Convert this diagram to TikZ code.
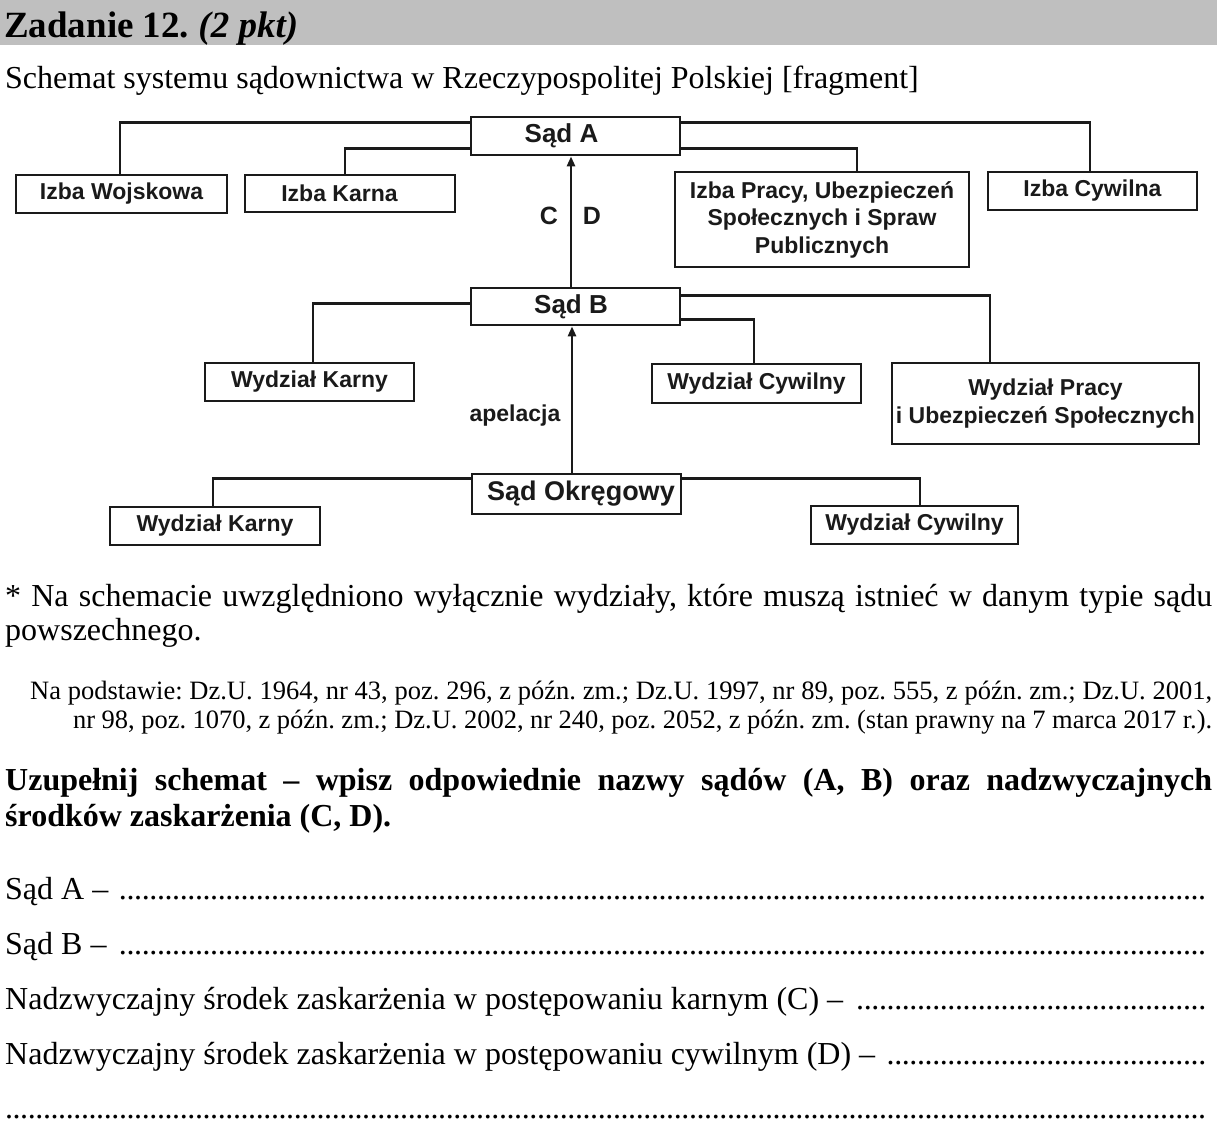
\documentclass[tikz,border=0pt]{standalone}
\usepackage{fontspec}
\setmainfont{Liberation Serif}
\newfontfamily\diagfont{Liberation Sans}
\usetikzlibrary{arrows.meta}
\definecolor{bargray}{HTML}{BFBFBF}
\definecolor{ink}{HTML}{1A1A1A}
\newcommand\dotsfill{\leaders\hbox to 7.6pt{\hss.\hss}\hfill}
\begin{document}
\frenchspacing
\begin{tikzpicture}[x=1pt,y=-1pt,
 box/.style={draw=ink, line width=2.7pt, rectangle, inner sep=0pt, align=center,
   font=\diagfont\bfseries\fontsize{23pt}{27.5pt}\selectfont, text=ink},
 court/.style={box, font=\diagfont\bfseries\fontsize{26pt}{30pt}\selectfont},
 conn/.style={draw=ink, line width=2.6pt},
 arr/.style={conn, -{Triangle[length=10pt,width=8pt]}},
 lab/.style={font=\diagfont\bfseries\fontsize{23pt}{27pt}\selectfont, text=ink, inner sep=0pt},
 body/.style={anchor=base west, inner sep=0pt, font=\fontsize{32pt}{38pt}\selectfont},
 small/.style={anchor=base west, inner sep=0pt, font=\fontsize{26.5pt}{30pt}\selectfont},
]
\useasboundingbox (0,0) rectangle (1220,1128);
\fill[bargray] (0,0) rectangle (1217,45);
\node[anchor=base west, inner sep=0pt, font=\bfseries\fontsize{37pt}{40pt}\selectfont] (title) at (4,37) {Zadanie 12. \textit{(2 pkt)}};
\node[body] (head) at (5,88) {Schemat systemu sądownictwa w Rzeczypospolitej Polskiej [fragment]};

% diagram
\node[court, minimum width=209pt, minimum height=38pt] (sA) at (575.5,136) {\hspace*{-28pt}Sąd A};
\node[box, minimum width=211pt, minimum height=38pt] (iW) at (121.5,194) {Izba Wojskowa};
\node[box, minimum width=210pt, minimum height=37pt] (iK) at (350,193.5) {\hspace*{-21pt}Izba Karna};
\node[box, minimum width=294pt, minimum height=95pt] (iP) at (822,219.5) {Izba Pracy, Ubezpieczeń\\Społecznych i Spraw\\Publicznych};
\node[box, minimum width=209pt, minimum height=38pt] (iC) at (1092.5,191) {Izba Cywilna};

\node[court, minimum width=209pt, minimum height=37pt] (sB) at (575.5,306.5) {\hspace*{-9pt}Sąd B};
\node[box, minimum width=209pt, minimum height=38pt] (wK1) at (309.5,382) {Wydział Karny};
\node[box, minimum width=209pt, minimum height=39pt] (wC1) at (756.5,383.5) {Wydział Cywilny};
\node[box, minimum width=307pt, minimum height=81pt] (wP) at (1045.5,403.5) {Wydział Pracy\\i Ubezpieczeń Społecznych};

\node[court, minimum width=209pt, minimum height=40pt, font=\diagfont\bfseries\fontsize{27pt}{31pt}\selectfont] (sO) at (576.5,494) {\hspace*{9pt}Sąd Okręgowy};
\node[box, minimum width=210pt, minimum height=38pt] (wK2) at (215,526) {Wydział Karny};
\node[box, minimum width=207pt, minimum height=38pt] (wC2) at (914.5,525) {Wydział Cywilny};

\draw[conn] ([yshift=-7pt]sA.north west) -| ([xshift=-1.5pt]iW.north);
\draw[conn] ([yshift=8pt]sA.south west) -| ([xshift=-5pt]iK.north);
\draw[conn] ([yshift=-7pt]sA.north east) -| ([xshift=-2.5pt]iC.north);
\draw[conn] ([yshift=8pt]sA.south east) -| ([xshift=35pt]iP.north);

\draw[conn] ([yshift=-17pt]sB.north west) -| ([xshift=3.5pt]wK1.north);
\draw[conn] ([yshift=-9pt]sB.north east) -| ([xshift=-55.5pt]wP.north);
\draw[conn] ([yshift=7pt]sB.south east) -| ([xshift=-2.5pt]wC1.north);

\draw[conn] ([yshift=-6pt]sO.north west) -| ([xshift=-2pt]wK2.north);
\draw[conn] ([yshift=-6pt]sO.north east) -| ([xshift=5.5pt]wC2.north);

\draw[arr] ([xshift=-4.5pt]sB.north) -- ([xshift=-4.5pt]sA.south);
\draw[arr] ([xshift=-4.5pt]sO.north) -- ([xshift=-3.5pt]sB.south);

\node[lab, font=\diagfont\bfseries\fontsize{25pt}{28pt}\selectfont] (lC) at (549,216) {C};
\node[lab, font=\diagfont\bfseries\fontsize{25pt}{28pt}\selectfont] (lD) at (592,216) {D};
\node[lab] (lApel) at (515,416) {apelacja};

% text below
\node[body] (note1) at (5,606) {\makebox[1207pt][s]{* Na schemacie uwzględniono wyłącznie wydziały, które muszą istnieć w danym typie sądu}};
\node[body] (note2) at (5,640) {powszechnego.};
\node[small] (src1) at (30,699) {\makebox[1182pt][s]{Na podstawie: Dz.U. 1964, nr 43, poz. 296, z późn. zm.; Dz.U. 1997, nr 89, poz. 555, z późn. zm.; Dz.U. 2001,}};
\node[small] (src2) at (73,728) {\makebox[1139pt][s]{nr 98, poz. 1070, z późn. zm.; Dz.U. 2002, nr 240, poz. 2052, z późn. zm. (stan prawny na 7 marca 2017 r.).}};
\node[body, font=\bfseries\fontsize{32pt}{38pt}\selectfont] (q1) at (5,790) {\makebox[1207pt][s]{Uzupełnij schemat – wpisz odpowiednie nazwy sądów (A, B) oraz nadzwyczajnych}};
\node[body, font=\bfseries\fontsize{32pt}{38pt}\selectfont] (q2) at (5,826) {środków zaskarżenia (C, D).};

\node[body] (aA) at (5,899) {\makebox[1205pt][l]{Sąd A – \dotsfill}};
\node[body] (aB) at (5,954) {\makebox[1205pt][l]{Sąd B – \dotsfill}};
\node[body] (aC) at (5,1009) {\makebox[1205pt][l]{Nadzwyczajny środek zaskarżenia w postępowaniu karnym (C) – \dotsfill}};
\node[body] (aD) at (5,1064) {\makebox[1205pt][l]{Nadzwyczajny środek zaskarżenia w postępowaniu cywilnym (D) – \dotsfill}};
\node[body] (aE) at (5,1118) {\makebox[1205pt][l]{\dotsfill}};
\end{tikzpicture}
\end{document}
